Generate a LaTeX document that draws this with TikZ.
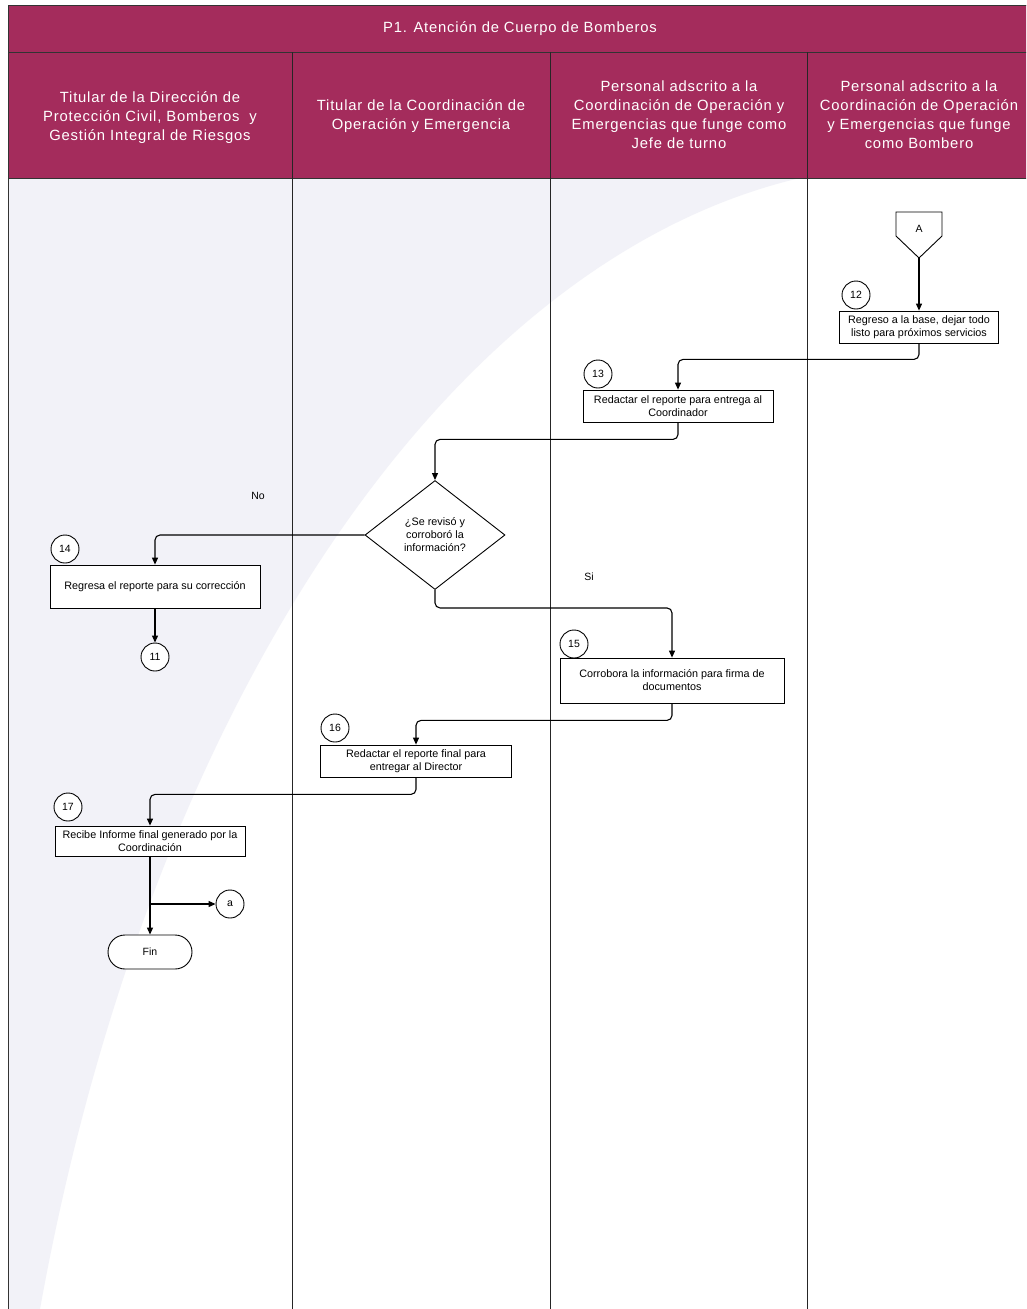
\documentclass[tikz,border=0pt]{standalone}
\usepackage{fontspec}
\setmainfont{Liberation Sans}
\newfontfamily\hdrfont[LetterSpace=5.5]{Liberation Sans}
\usetikzlibrary{arrows.meta,shapes.geometric}
\definecolor{hdr}{RGB}{164,44,92}
\definecolor{wm}{RGB}{242,242,248}
\begin{document}
\begin{tikzpicture}[x=1pt,y=-1pt,
  proc/.style={draw, line width=0.8pt, fill=white, align=center, inner sep=0pt,
    font=\fontsize{10.8}{13}\selectfont},
  num/.style={circle, draw, line width=0.9pt, fill=white, minimum size=28pt, inner sep=0pt,
    font=\fontsize{10.5}{12}\selectfont},
  flow/.style={line width=1.1pt, rounded corners=5pt, -{Triangle[length=7pt,width=6pt]}},
  hdrtext/.style={text=white, align=center, font=\hdrfont\fontsize{14.8}{19}\selectfont},
  lbl/.style={font=\fontsize{10.5}{12}\selectfont}]
\useasboundingbox (0,0) rectangle (1026,1309);
\clip (0,0) rectangle (1026,1309);
\fill[white] (0,0) rectangle (1026,1309);
% watermark
\fill[wm] (8,178) -- (800,178) .. controls (450,260) and (150,700) .. (40,1309) -- (8,1309) -- cycle;
% header
\fill[hdr] (8,5) rectangle (1040,178);
\draw[line width=0.8pt, black!80] (8,5) rectangle (1040,1309);
\draw[line width=0.8pt, black!80] (8,52) -- (1040,52);
\draw[line width=0.8pt, black!80] (8,178) -- (1040,178);
\foreach \x in {292,550,807} \draw[line width=0.9pt, black!85] (\x,52) -- (\x,1309);
\node[hdrtext] (title) at (520,29) {P1. Atención de Cuerpo de Bomberos};
\node[hdrtext] (h1) at (150,118) {Titular de la Dirección de\\Protección Civil, Bomberos\ \ y\\Gestión Integral de Riesgos};
\node[hdrtext] (h2) at (421,116) {Titular de la Coordinación de\\Operación y Emergencia};
\node[hdrtext] (h3) at (679,115) {Personal adscrito a la\\Coordinación de Operación y\\Emergencias que funge como\\Jefe de turno};
\node[hdrtext] (h4) at (919,115) {Personal adscrito a la\\Coordinación de Operación\\y Emergencias que funge\\como Bombero};
% off-page A
\draw[line width=0.9pt, fill=white] (896,212) -- (942,212) -- (942,236) -- (919,258) -- (896,236) -- cycle;
\node[lbl] (offA) at (919,229) {A};
\coordinate (offAtip) at (919,258);
% boxes
\node[proc, minimum width=159pt, minimum height=32pt] (b12) at (919,327) {Regreso a la base, dejar todo\\listo para próximos servicios};
\node[num] (n12) at (856,295) {12};
\node[proc, minimum width=190pt, minimum height=32pt] (b13) at (678,406) {Redactar el reporte para entrega al\\Coordinador};
\node[num] (n13) at (598,374) {13};
\node[draw, line width=0.9pt, fill=white, diamond, shape aspect=1.28, minimum width=140pt, minimum height=109pt, inner sep=0pt, align=center, font=\fontsize{10.8}{13}\selectfont] (d) at (435,535) {¿Se revisó y\\corroboró la\\información?};
\node[proc, minimum width=210pt, minimum height=43pt] (b14) at (155,586.5) {Regresa el reporte para su corrección};
\node[num] (n14) at (65,549) {14};
\node[num] (c11) at (155,657) {11};
\node[proc, minimum width=224pt, minimum height=45pt] (b15) at (672,680.5) {Corrobora la información para firma de\\documentos};
\node[num] (n15) at (574,644) {15};
\node[proc, minimum width=191pt, minimum height=32pt] (b16) at (416,761) {Redactar el reporte final para\\entregar al Director};
\node[num] (n16) at (335,728) {16};
\node[proc, minimum width=190pt, minimum height=30pt] (b17) at (150,841) {Recibe Informe final generado por la\\Coordinación};
\node[num] (n17) at (68,807) {17};
\node[num] (ca) at (230,904) {a};
\node[draw, line width=0.9pt, fill=white, rounded corners=17pt, minimum width=84pt, minimum height=34pt, inner sep=0pt, font=\fontsize{10.5}{12}\selectfont] (fin) at (150,952) {Fin};
\node[lbl] (no) at (258,496) {No};
\node[lbl] (si) at (589,577) {Si};
% connectors
\draw[flow] (offAtip) -- (b12.north);
\draw[flow] (b12.south) -- ++(0,16) -| (b13.north);
\draw[flow] (b13.south) -- ++(0,17) -| (d.north);
\draw[flow] (d.west) -| (b14.north);
\draw[flow] (b14.south) -- (c11.north);
\draw[flow] (d.south) -- ++(0,18) -| (b15.north);
\draw[flow] (b15.south) -- ++(0,17) -| (b16.north);
\draw[flow] (b16.south) -- ++(0,17) -| (b17.north);
\draw[flow] (b17.south) -- (fin.north);
\draw[flow] (b17.south |- ca.west) -- (ca.west);
\end{tikzpicture}
\end{document}
